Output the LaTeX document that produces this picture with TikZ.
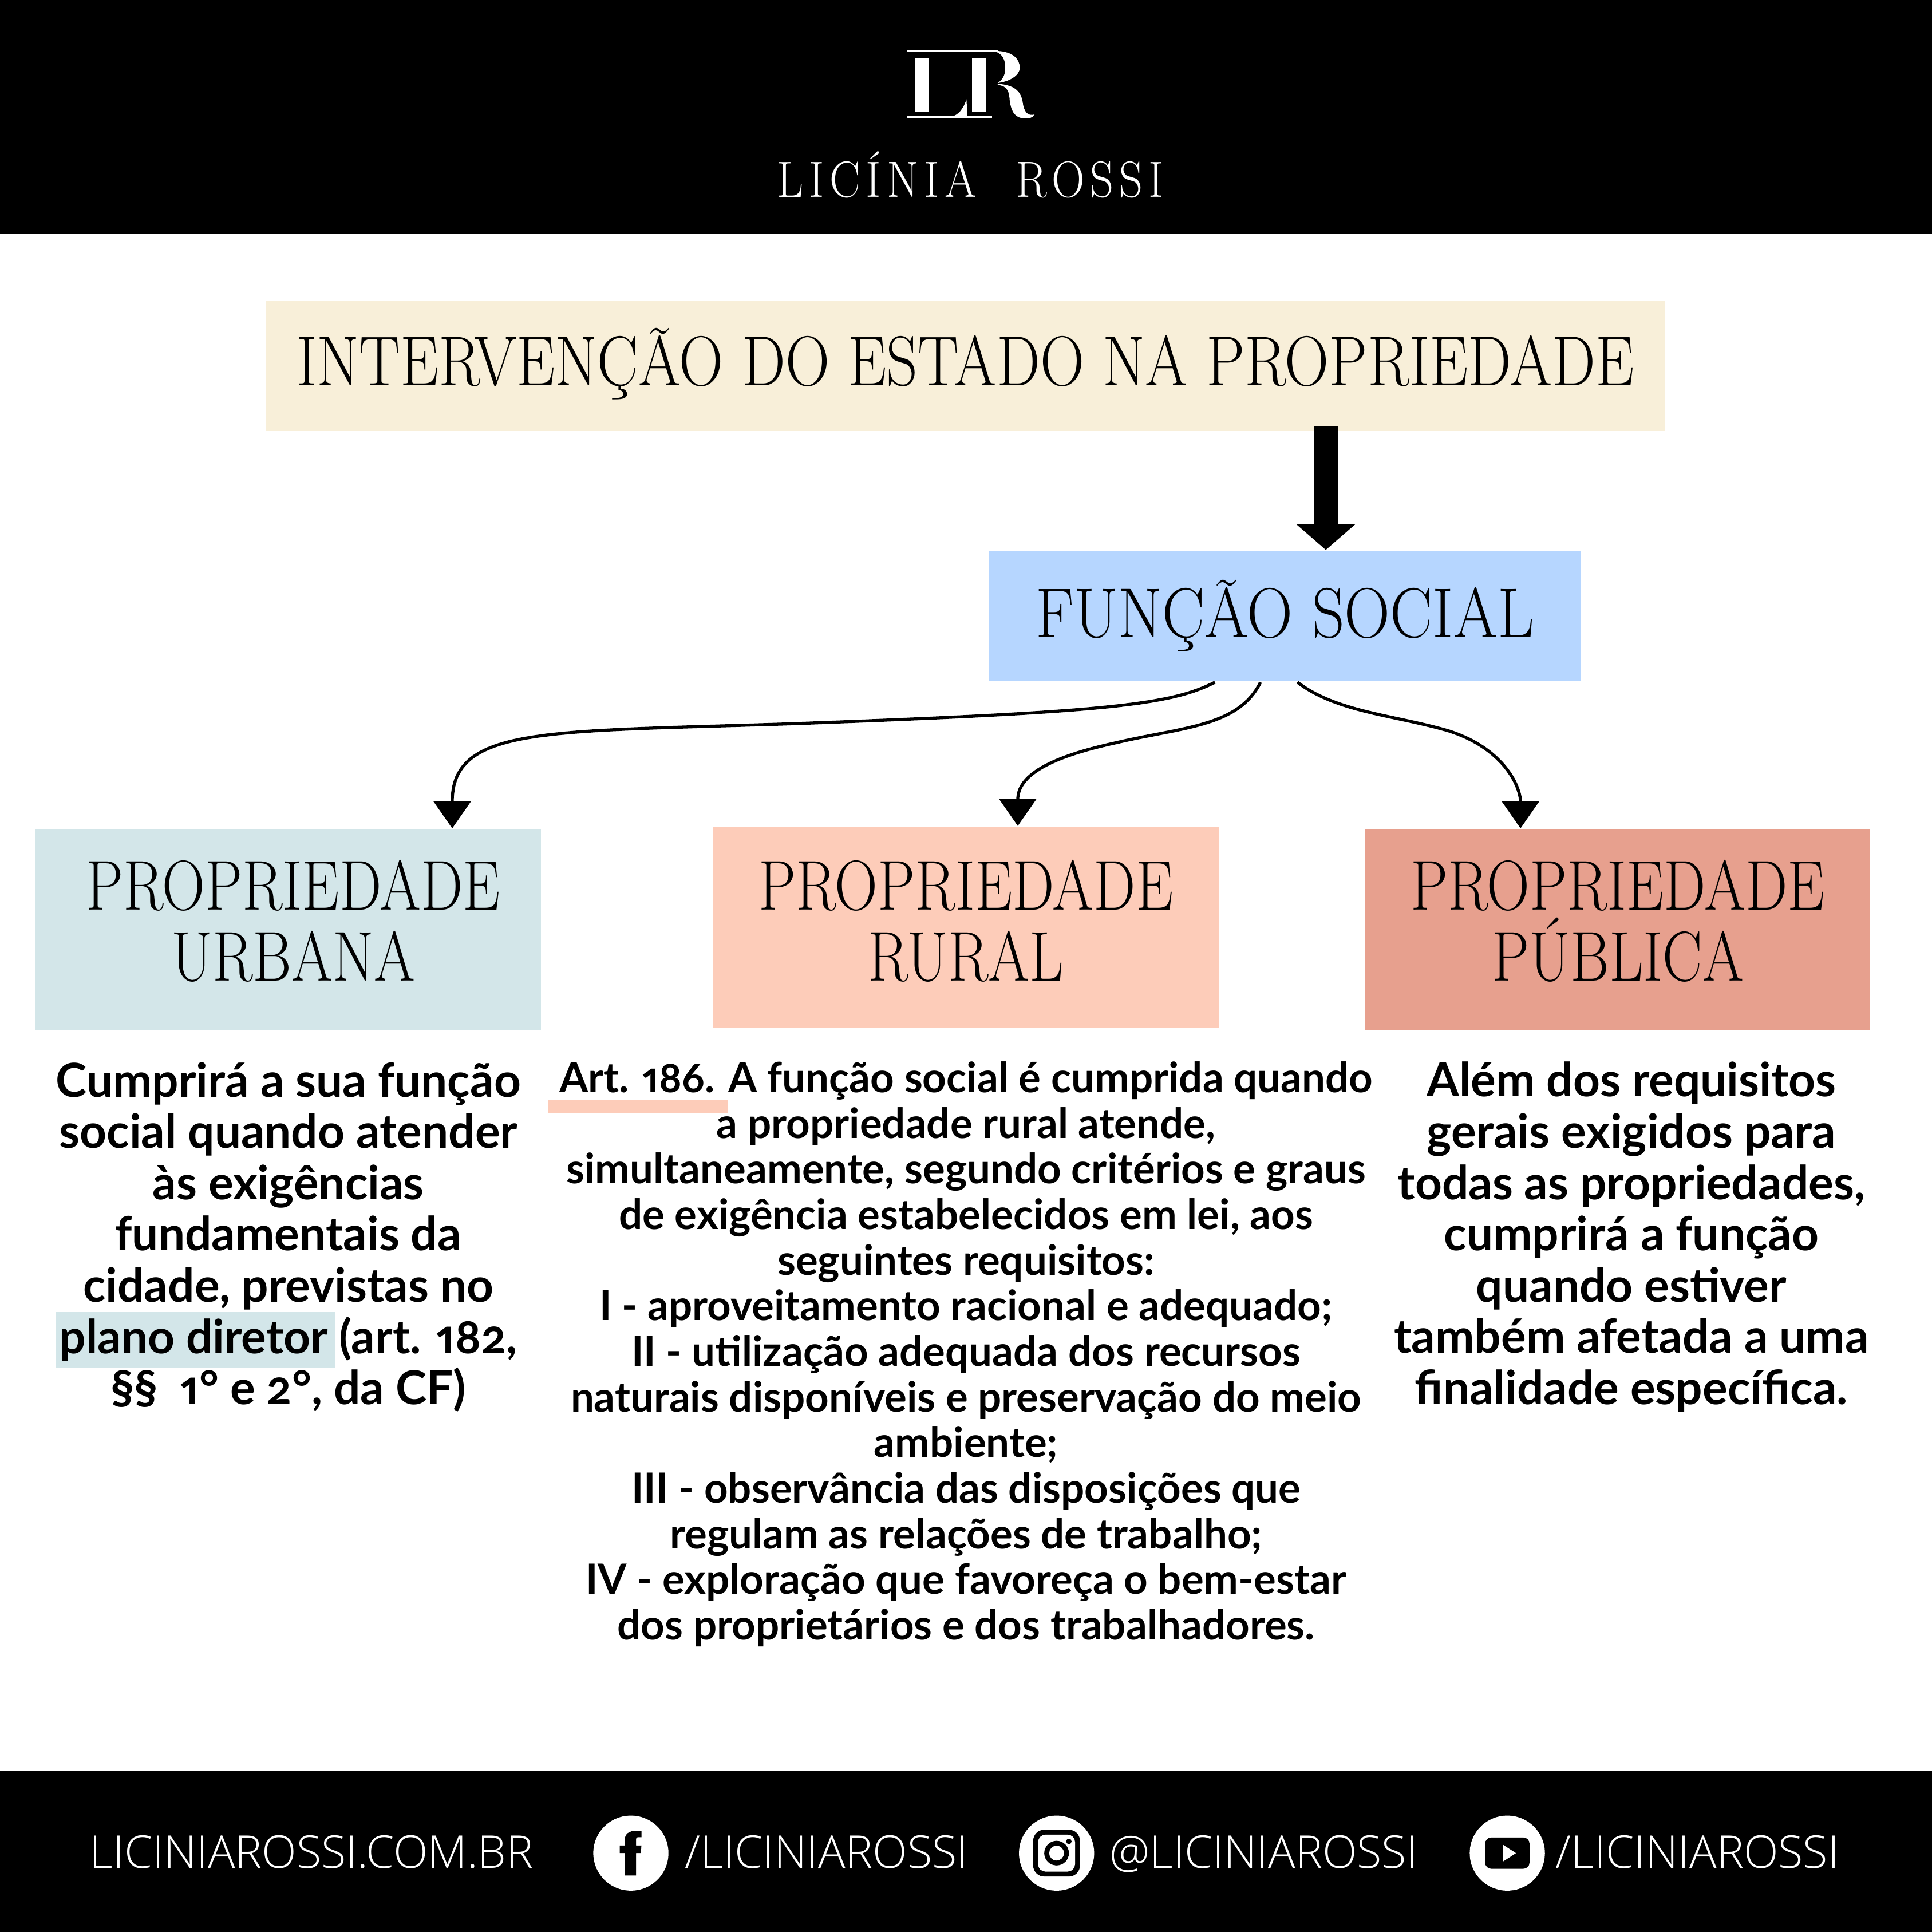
\documentclass[tikz,border=0pt]{standalone}
\usepackage{fontspec}
\usepackage{tikz}
\usetikzlibrary{arrows.meta}
\newfontfamily\bodyfont{Lato}[Numbers={OldStyle,Proportional}]
\newfontfamily\footfont{Open Sans Light}
\newfontfamily\titlefont{lmroman17-regular.otf}[FakeStretch=0.869]
\newfontfamily\socialfont{lmroman17-regular.otf}[FakeStretch=0.9]
\newfontfamily\propfont{lmroman17-regular.otf}[FakeStretch=0.841]
\newfontfamily\brandfont{lmroman17-regular.otf}[FakeStretch=0.9,LetterSpace=11]
\definecolor{cream}{HTML}{F8EFD9}
\definecolor{sky}{HTML}{B6D6FF}
\definecolor{mist}{HTML}{D3E6E9}
\definecolor{peach}{HTML}{FDCCB9}
\definecolor{salmon}{HTML}{E7A08E}
\tikzset{
    head/.style={align=center, inner sep=0pt, font=#1\fontsize{16.3}{16.5}\selectfont},
    body/.style={align=center, inner sep=0pt, font=\bodyfont\bfseries\fontsize{10.82}{11.84}\selectfont},
    small/.style={align=center, inner sep=0pt, font=\bodyfont\bfseries\fontsize{9.6}{10.53}\selectfont},
    foot/.style={anchor=base west, inner sep=0pt, text=white, font=\footfont\fontsize{10.47}{12}\selectfont},
    icon/.style={circle, fill=white, inner sep=0pt, minimum size=0.61cm},
    flow/.style={line width=0.7pt, -{Triangle[length=2.2mm,width=3mm]}}
}
\begin{document}
\begin{tikzpicture}
    \useasboundingbox (0, 0) rectangle (15.68, 15.68);
    \fill[black] (0, 13.78) rectangle (15.68, 15.68);
    \fill[black] (0, 0) rectangle (15.68, 1.31);

    \fill[white] (7.36, 15.255) rectangle (8.10, 15.275);
    \fill[white] (7.36, 14.72) rectangle (8.05, 14.74);
    \fill[white] (7.43, 14.774) rectangle (7.54, 15.21);
    \fill[white] (7.89, 14.774) rectangle (8.00, 15.21);
    \fill[white] (7.844, 14.874) .. controls (7.82, 14.80) and (7.78, 14.74) .. (7.71, 14.73) -- (7.85, 14.73) -- cycle;
    \fill[white] (8.06, 15.266) -- (8.097, 15.266) .. controls (8.22, 15.26) and (8.276, 15.20) .. (8.276, 15.13) .. controls (8.276, 15.07) and (8.20, 15.02) .. (8.097, 15.006) .. controls (8.15, 15.04) and (8.159, 15.09) .. (8.159, 15.13) .. controls (8.159, 15.19) and (8.14, 15.25) .. (8.06, 15.266) -- cycle;
    \fill[white] (8.097, 15.0) .. controls (8.22, 14.99) and (8.284, 14.95) .. (8.30, 14.85) .. controls (8.31, 14.77) and (8.34, 14.735) .. (8.396, 14.75) .. controls (8.38, 14.72) and (8.34, 14.715) .. (8.30, 14.72) .. controls (8.22, 14.73) and (8.205, 14.80) .. (8.195, 14.86) .. controls (8.19, 14.93) and (8.18, 14.985) .. (8.097, 14.99) -- cycle;
    \node (brand) [inner sep=0pt, text=white, font=\brandfont\fontsize{11.8}{14}\selectfont] at (7.875, 14.26) {LICÍNIA\ \ ROSSI};

    \node (title) [fill=cream, head=\titlefont, text depth=0.15cm, minimum width=11.35cm, minimum height=1.06cm] at (7.835, 12.71) {INTERVENÇÃO DO ESTADO NA PROPRIEDADE};
    \node (social) [fill=sky, head=\socialfont, minimum width=4.8cm, minimum height=1.06cm] at (10.43, 10.68) {FUNÇÃO SOCIAL};
    \node (urban) [fill=mist, head=\propfont, text depth=0.15cm, minimum width=4.1cm, minimum height=1.63cm] at (2.34, 8.135) {\hspace*{0.08cm}PROPRIEDADE\\\hspace*{0.08cm}URBANA};
    \node (rural) [fill=peach, head=\propfont, text depth=0.11cm, minimum width=4.1cm, minimum height=1.63cm] at (7.84, 8.155) {PROPRIEDADE\\RURAL};
    \node (public) [fill=salmon, head=\propfont, text depth=0.15cm, minimum width=4.1cm, minimum height=1.63cm] at (13.13, 8.135) {PROPRIEDADE\\PÚBLICA};

    \coordinate (shaft) at (10.76, 12.22);
    \draw[line width=0.2cm, -{Triangle[length=2.1mm,width=4.7mm]}] (shaft) -- (shaft |- social.north);

    \draw[flow] ([xshift=-0.57cm]social.south) .. controls (9.50, 9.96) and (9.00, 9.90) .. (6.40, 9.805)
        .. controls (4.40, 9.74) and (3.67, 9.78) .. ([xshift=1.33cm]urban.north);
    \draw[flow] ([xshift=-0.20cm]social.south) .. controls (10.05, 9.78) and (9.60, 9.78) .. (9.05, 9.65)
        .. controls (8.50, 9.53) and (8.26, 9.38) .. ([xshift=0.42cm]rural.north);
    \draw[flow] ([xshift=0.10cm]social.south) .. controls (10.85, 9.90) and (11.30, 9.88) .. (11.75, 9.75)
        .. controls (12.20, 9.61) and (12.34, 9.30) .. ([xshift=-0.79cm]public.north);

    \node (planomark) [fill=mist, minimum width=2.27cm, minimum height=0.45cm, inner sep=0pt] at (1.585, 4.805) {};
    \node (artmark) [fill=peach, minimum width=1.46cm, minimum height=0.1cm, inner sep=0pt] at (5.18, 6.70) {};

    \node (urbantext) [body] at (2.34, 5.64) {Cumprirá a sua função\\social quando atender\\às exigências\\fundamentais da\\cidade, previstas no\\plano diretor (art. 182,\\§§\ \ 1° e 2°, da CF)};
    \node (ruraltext) [small] at (7.84, 4.69) {Art. 186. A função social é cumprida quando\\a propriedade rural atende,\\simultaneamente, segundo critérios e graus\\de exigência estabelecidos em lei, aos\\seguintes requisitos:\\I - aproveitamento racional e adequado;\\II - utilização adequada dos recursos\\naturais disponíveis e preservação do meio\\ambiente;\\III - observância das disposições que\\regulam as relações de trabalho;\\IV - exploração que favoreça o bem-estar\\dos proprietários e dos trabalhadores.};
    \node (publictext) [body] at (13.24, 5.64) {Além dos requisitos\\gerais exigidos para\\todas as propriedades,\\cumprirá a função\\quando estiver\\também afetada a uma\\finalidade específica.};

    \node (site) [foot] at (0.72, 0.52) {LICINIAROSSI.COM.BR};
    \node (fb) [icon] at (5.12, 0.64) {};
    \node (fbname) [foot] at (5.55, 0.52) {/LICINIAROSSI};
    \node (ig) [icon] at (8.575, 0.64) {};
    \node (igname) [foot] at (9.00, 0.52) {@LICINIAROSSI};
    \node (yt) [icon] at (12.233, 0.64) {};
    \node (ytname) [foot] at (12.62, 0.52) {/LICINIAROSSI};

    \fill[black, shift={(fb)}] (-0.051, -0.182) -- (-0.051, 0) -- (-0.09, 0) -- (-0.09, 0.062) -- (-0.051, 0.062) -- (-0.051, 0.10) .. controls (-0.051, 0.16) and (-0.01, 0.181) .. (0.04, 0.181) -- (0.086, 0.181) -- (0.086, 0.13) -- (0.055, 0.13) .. controls (0.045, 0.13) and (0.042, 0.12) .. (0.042, 0.105) -- (0.042, 0.062) -- (0.086, 0.062) -- (0.08, 0) -- (0.042, 0) -- (0.042, -0.182) -- cycle;
    \fill[black, shift={(ig)}, rounded corners=0.09cm] (-0.19, -0.19) rectangle (0.19, 0.19);
    \fill[white, shift={(ig)}, rounded corners=0.06cm] (-0.15, -0.15) rectangle (0.15, 0.15);
    \fill[black, shift={(ig)}] (0, 0) circle (0.10);
    \fill[white, shift={(ig)}] (0, 0) circle (0.06);
    \fill[black, shift={(ig)}] (0.10, 0.095) circle (0.022);
    \fill[black, shift={(yt)}, rounded corners=0.05cm] (-0.18, -0.127) rectangle (0.18, 0.127);
    \fill[white, shift={(yt)}] (-0.035, -0.068) -- (-0.035, 0.068) -- (0.07, 0) -- cycle;
\end{tikzpicture}
\end{document}
